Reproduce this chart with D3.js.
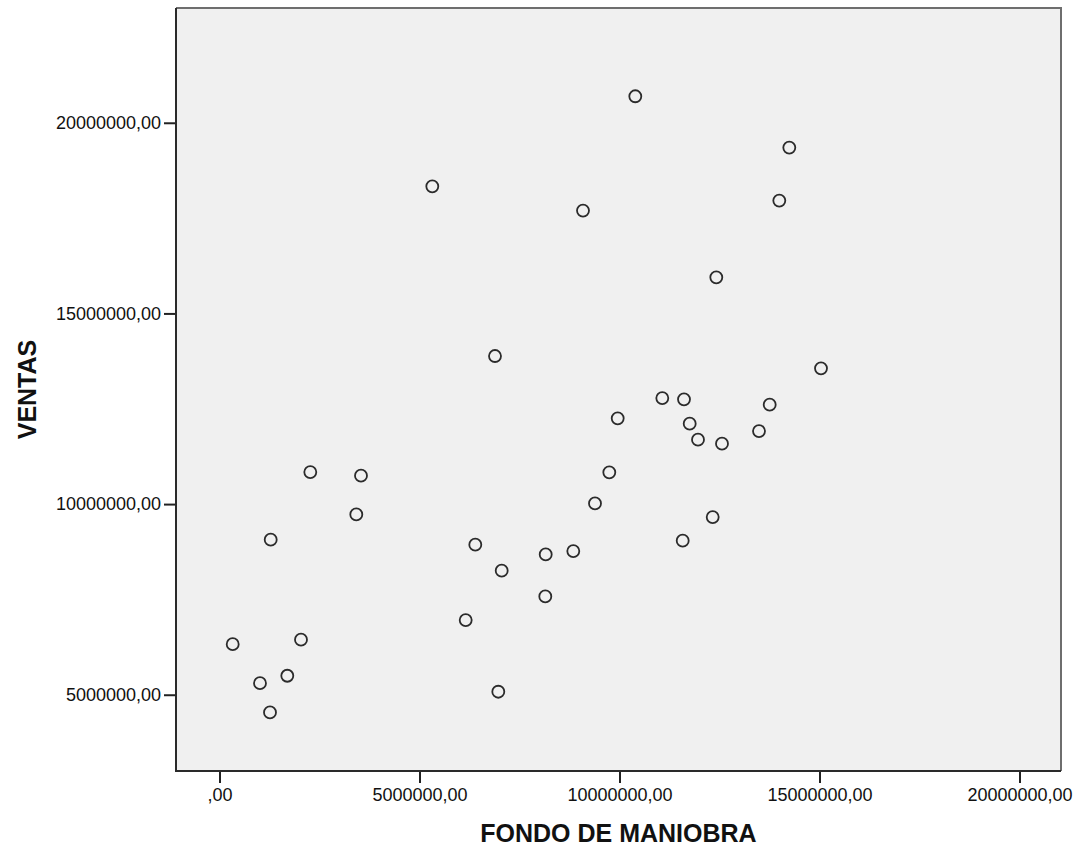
<!DOCTYPE html>
<html>
<head>
<meta charset="utf-8">
<script src="https://cdn.jsdelivr.net/npm/d3@7"></script>
<style>
  html, body { margin: 0; padding: 0; background: #ffffff; }
  svg { display: block; }
  text { font-family: "Liberation Sans", Arial, sans-serif; fill: #111; }
</style>
</head>
<body>
<svg id="chart" width="1082" height="850"></svg>
<script>
// ---- data ----
const fondoManiobra = [
  330000, 1012500, 1262500, 1695000, 2037500, 1280000, 2270000, 3420000, 3537500,
  5320000, 6155000, 6395000, 6887500, 6970000, 7055000, 8145000, 8155000, 8845000,
  9087500, 9387500, 9745000, 9955000, 10395000, 11070000, 11580000, 11612500,
  11755000, 11962500, 12330000, 12420000, 12562500, 13487500, 13755000, 13995000,
  14245000, 15037500
];
const ventas = [
  6327000, 5304000, 4536000, 5498000, 6443000, 9066000, 10840000, 9730000, 10745000,
  18334000, 6957000, 8935000, 13883000, 5079000, 8253000, 7579000, 8681000, 8767000,
  17697000, 10018000, 10832000, 12248000, 20695000, 12781000, 9040000, 12747000,
  12109000, 11689000, 9659000, 15947000, 11585000, 11915000, 12608000, 17959000,
  19350000, 13560000
];
const xTicks = [0, 5000000, 10000000, 15000000, 20000000];
const yTicks = [5000000, 10000000, 15000000, 20000000];
const xTitle = "FONDO DE MANIOBRA";
const yTitle = "VENTAS";

// ---- layout ----
const plot = { left: 176, right: 1061, top: 8, bottom: 771 };
const svg = d3.select("#chart");

const x = d3.scaleLinear().domain([-1087500, 21037500]).range([plot.left, plot.right]);
const y = d3.scaleLinear().domain([3000000, 23010000]).range([plot.bottom, plot.top]);

const fmt = v => v === 0 ? ",00" : d3.format("d")(v) + ",00";

// plot background
svg.append("rect")
  .attr("x", plot.left).attr("y", plot.top)
  .attr("width", plot.right - plot.left).attr("height", plot.bottom - plot.top)
  .attr("fill", "#f0f0f0");

// top / right frame (lighter)
svg.append("path")
  .attr("d", `M${plot.left},${plot.top}H${plot.right}V${plot.bottom}`)
  .attr("fill", "none").attr("stroke", "#6e6e6e").attr("stroke-width", 2);

// axes
const xAxis = d3.axisBottom(x).tickValues(xTicks).tickFormat(fmt).tickSize(12).tickSizeOuter(0).tickPadding(5);
const yAxis = d3.axisLeft(y).tickValues(yTicks).tickFormat(fmt).tickSize(12).tickSizeOuter(0).tickPadding(3);

const gx = svg.append("g").attr("transform", `translate(0,${plot.bottom})`).call(xAxis);
const gy = svg.append("g").attr("transform", `translate(${plot.left},0)`).call(yAxis);

[gx, gy].forEach(g => {
  g.select(".domain").remove();
  g.selectAll(".tick line").attr("stroke", "#222").attr("stroke-width", 2);
  g.selectAll(".tick text")
    .attr("font-family", "'Liberation Sans', Arial, sans-serif")
    .attr("font-size", 18).attr("fill", "#111");
});

// left / bottom frame (darker)
svg.append("path")
  .attr("d", `M${plot.left},${plot.top}V${plot.bottom}H${plot.right}`)
  .attr("fill", "none").attr("stroke", "#2a2a2a").attr("stroke-width", 2);

// points
svg.append("g").selectAll("circle")
  .data(fondoManiobra.map((v, i) => [v, ventas[i]]))
  .join("circle")
  .attr("cx", d => x(d[0]))
  .attr("cy", d => y(d[1]))
  .attr("r", 6)
  .attr("fill", "none")
  .attr("stroke", "#2b2b2b")
  .attr("stroke-width", 1.8);

// axis titles
svg.append("text")
  .attr("x", (plot.left + plot.right) / 2)
  .attr("y", 842)
  .attr("text-anchor", "middle")
  .attr("font-weight", "bold")
  .attr("font-size", 25)
  .text(xTitle);

svg.append("text")
  .attr("transform", `translate(36,${(plot.top + plot.bottom) / 2}) rotate(-90)`)
  .attr("text-anchor", "middle")
  .attr("font-weight", "bold")
  .attr("font-size", 25)
  .text(yTitle);
</script>
</body>
</html>
